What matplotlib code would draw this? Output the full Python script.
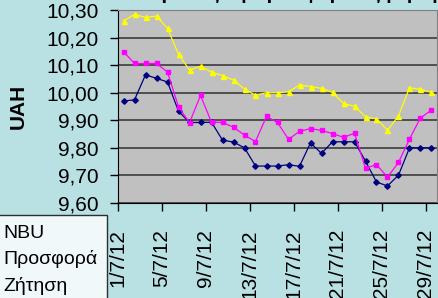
import matplotlib
matplotlib.use('Agg')
import matplotlib.pyplot as plt
import matplotlib.transforms as mtransforms
from matplotlib.ticker import FuncFormatter, MultipleLocator
import numpy as np

plt.rcParams['font.family'] = ['Liberation Sans', 'DejaVu Sans']

# days 1/7/12 .. 29/7/12
days = list(range(1, 30))
tick_labels = ['%d/7/12' % d for d in days[::4]]

nbu = [9.970, 9.974, 10.065, 10.052, 10.039, 9.933, 9.892, 9.892, 9.893, 9.828,
       9.821, 9.800, 9.734, 9.734, 9.734, 9.739, 9.733, 9.818, 9.780, 9.822,
       9.822, 9.822, 9.752, 9.676, 9.662, 9.701, 9.800, 9.800, 9.800]
offer = [10.149, 10.106, 10.106, 10.106, 10.075, 9.949, 9.891, 9.990, 9.893, 9.892,
         9.875, 9.846, 9.823, 9.914, 9.892, 9.831, 9.860, 9.870, 9.863, 9.852,
         9.838, 9.853, 9.726, 9.739, 9.694, 9.747, 9.832, 9.909, 9.937]
demand = [10.260, 10.284, 10.273, 10.278, 10.233, 10.140, 10.082, 10.096, 10.075, 10.062,
          10.046, 10.013, 9.991, 10.000, 10.000, 10.003, 10.028, 10.022, 10.016, 10.001,
          9.961, 9.951, 9.913, 9.905, 9.864, 9.916, 10.018, 10.012, 10.001]

bg = '#B9E0E3'
fig = plt.figure(figsize=(4.38, 2.98), dpi=100, facecolor=bg)
ax = fig.add_axes([118/438, 1 - 203/298, 319/438, 193/298])
ax.set_facecolor('#C0C0C0')

x = np.arange(len(days)) + 0.5
l1, = ax.plot(x, nbu, color='#000080', lw=0.9, marker='D', ms=2.8, label='NBU')
l2, = ax.plot(x, offer, color='#FF00FF', lw=0.9, marker='s', ms=3.2, label='Προσφορά')
l3, = ax.plot(x, demand, color='#FFFF00', lw=0.9, marker='^', ms=3.6, label='Ζήτηση')

ax.set_xlim(0, len(days))
ax.set_ylim(9.60, 10.30)
ax.yaxis.set_major_locator(MultipleLocator(0.1))
ax.yaxis.set_major_formatter(FuncFormatter(lambda v, p: ('%.2f' % v).replace('.', ',')))
ax.set_xticks(np.arange(0, len(days), 4))
ax.set_xticklabels(tick_labels, rotation=90, fontsize=15)
for lab in ax.get_xticklabels():
    lab.set_transform(lab.get_transform() + mtransforms.ScaledTranslation(4/100, 0, fig.dpi_scale_trans))
ax.tick_params(axis='y', labelsize=15, length=5.8, width=1, pad=8, direction='out')
ax.tick_params(axis='x', length=5.8, width=1, pad=13, direction='out')
ax.grid(axis='y', color='#303030', lw=1.1)
ax.set_axisbelow(True)

for s in ['top', 'right']:
    ax.spines[s].set_color('#808080')
ax.spines['left'].set_color('black')
ax.spines['bottom'].set_color('black')

ax.set_ylabel('UAH', fontsize=15, fontweight='bold')
ax.yaxis.set_label_coords(-90/319, 0.5)

fig.text(280/438, 1 + 1/298, 'Διατραπεζική προσφορά - ζήτηση', ha='center', va='baseline',
         fontsize=14, fontweight='bold')

leg = fig.legend(handles=[l1, l2, l3], loc='upper left',
                 bbox_to_anchor=(-55/438, 1 - 215/298), borderaxespad=0,
                 fontsize=14, frameon=True, fancybox=False, borderpad=0.5,
                 handlelength=2, handletextpad=0.5, labelspacing=0.42)
leg.get_frame().set_edgecolor('black')
leg.get_frame().set_linewidth(1)
leg.get_frame().set_facecolor('white')

fig.savefig('out.png', dpi=100, facecolor=bg)
